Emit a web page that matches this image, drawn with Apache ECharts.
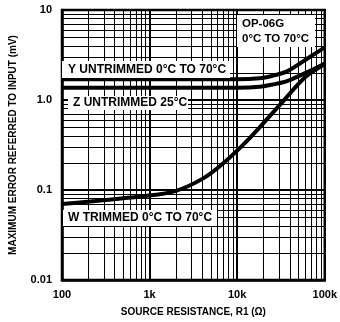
<!DOCTYPE html>
<html><head><meta charset="utf-8">
<script src="https://cdn.jsdelivr.net/npm/echarts@6/dist/echarts.min.js"></script>
<style>html,body{margin:0;padding:0;background:#fff}#c{width:340px;height:322px}</style>
</head><body><div id="c"></div>
<script>
var xTicks = [100, 1000, 10000, 100000];
var xTickLabels = ['100', '1k', '10k', '100k'];
var yTicks = [0.01, 0.1, 1, 10];
var yTickLabels = ['0.01', '0.1', '1.0', '10'];
var xMinor = [200,300,400,500,600,700,800,900,2000,3000,4000,5000,6000,7000,8000,9000,20000,30000,40000,50000,60000,70000,80000,90000];
var yMinor = [0.02,0.03,0.04,0.05,0.06,0.07,0.08,0.09,0.2,0.3,0.4,0.5,0.6,0.7,0.8,0.9,2,3,4,5,6,7,8,9];

var yUntrimX = [100, 10000, 18000, 25000, 37000, 66000, 100000];
var yUntrimV = [1.70, 1.70, 1.74, 1.85, 2.08, 2.97, 3.85];
var zUntrimX = [100, 10000, 18000, 25000, 37000, 66000, 100000];
var zUntrimV = [1.37, 1.37, 1.40, 1.48, 1.62, 2.08, 2.55];
var wTrimX = [100, 1000, 2000, 4000, 7000, 14000, 30000, 60000, 100000];
var wTrimV = [0.070, 0.087, 0.098, 0.133, 0.20, 0.38, 0.86, 1.8, 2.5];

var labelY = 'Y UNTRIMMED 0°C TO 70°C';
var labelZ = 'Z UNTRIMMED 25°C';
var labelW = 'W TRIMMED 0°C TO 70°C';
var boxLine1 = 'OP-06G';
var boxLine2 = '0°C TO 70°C';

function zip(a, b) { return a.map(function (v, i) { return [v, b[i]]; }); }
function fmt(ticks, labels) { return function (v) { for (var i = 0; i < ticks.length; i++) { if (Math.abs(v / ticks[i] - 1) < 1e-6) return labels[i]; } return ''; }; }

var FONT = '"Liberation Sans", Arial, sans-serif';
var minorLines = xMinor.map(function (v) { return { xAxis: v }; }).concat(yMinor.map(function (v) { return { yAxis: v }; }));

var chart = echarts.init(document.getElementById('c'), null, { renderer: 'canvas' });
var curveStyle = { color: '#000', width: 4 };
chart.setOption({
  animation: false,
  backgroundColor: '#fff',
  grid: { left: 53, right: 14, top: 10, bottom: 39, show: true, borderColor: '#000', borderWidth: 2.5, backgroundColor: 'transparent' },
  xAxis: {
    type: 'log', logBase: 10, min: 100, max: 100000,
    name: 'SOURCE RESISTANCE, R1 (Ω)', nameLocation: 'middle', nameGap: 27,
    nameTextStyle: { fontFamily: FONT, fontWeight: 'bold', fontSize: 10, color: '#000' },
    axisLine: { show: true, lineStyle: { color: '#000', width: 2.5 } },
    axisTick: { show: false },
    axisLabel: { formatter: fmt(xTicks, xTickLabels), fontFamily: FONT, fontWeight: 'bold', fontSize: 11, color: '#000', margin: 9 },
    splitLine: { show: true, lineStyle: { color: '#000', width: 2 } }
  },
  yAxis: {
    type: 'log', logBase: 10, min: 0.01, max: 10,
    name: 'MAXIMUM ERROR REFERRED TO INPUT (mV)', nameLocation: 'middle', nameGap: 44,
    nameTextStyle: { fontFamily: FONT, fontWeight: 'bold', fontSize: 10, color: '#000' },
    axisLine: { show: true, lineStyle: { color: '#000', width: 2.5 } },
    axisTick: { show: false },
    axisLabel: { formatter: fmt(yTicks, yTickLabels), fontFamily: FONT, fontWeight: 'bold', fontSize: 11, color: '#000', margin: 10 },
    splitLine: { show: true, lineStyle: { color: '#000', width: 2 } }
  },
  series: [
    { type: 'line', data: zip(yUntrimX, yUntrimV), showSymbol: false, smooth: 0.3, lineStyle: curveStyle, z: 5,
      markLine: { silent: true, symbol: 'none', label: { show: false }, lineStyle: { color: '#000', width: 1, type: 'solid' }, data: minorLines, z: 1 } },
    { type: 'line', data: zip(zUntrimX, zUntrimV), showSymbol: false, smooth: 0.3, lineStyle: curveStyle, z: 5 },
    { type: 'line', data: zip(wTrimX, wTrimV), showSymbol: false, smooth: 0.3, lineStyle: curveStyle, z: 5 }
  ],
  graphic: [
    { type: 'rect', shape: { x: 62, y: 61, width: 168, height: 17 }, style: { fill: '#fff' }, z: 100 },
    { type: 'text', x: 68, y: 70, style: { text: labelY, font: 'bold 12px ' + FONT, fill: '#000', textVerticalAlign: 'middle' }, z: 101 },
    { type: 'rect', shape: { x: 68, y: 96, width: 120, height: 14 }, style: { fill: '#fff' }, z: 100 },
    { type: 'text', x: 73, y: 103, style: { text: labelZ, font: 'bold 12px ' + FONT, fill: '#000', textVerticalAlign: 'middle' }, z: 101 },
    { type: 'rect', shape: { x: 63, y: 210, width: 154, height: 16 }, style: { fill: '#fff' }, z: 100 },
    { type: 'text', x: 68, y: 218, style: { text: labelW, font: 'bold 12px ' + FONT, fill: '#000', textVerticalAlign: 'middle' }, z: 101 },
    { type: 'rect', shape: { x: 237, y: 15, width: 78, height: 32 }, style: { fill: '#fff' }, z: 100 },
    { type: 'text', x: 242, y: 24, style: { text: boxLine1, font: 'bold 11.5px ' + FONT, fill: '#000', textVerticalAlign: 'middle' }, z: 101 },
    { type: 'text', x: 242, y: 39, style: { text: boxLine2, font: 'bold 11.5px ' + FONT, fill: '#000', textVerticalAlign: 'middle' }, z: 101 }
  ]
});
</script>
</body></html>
